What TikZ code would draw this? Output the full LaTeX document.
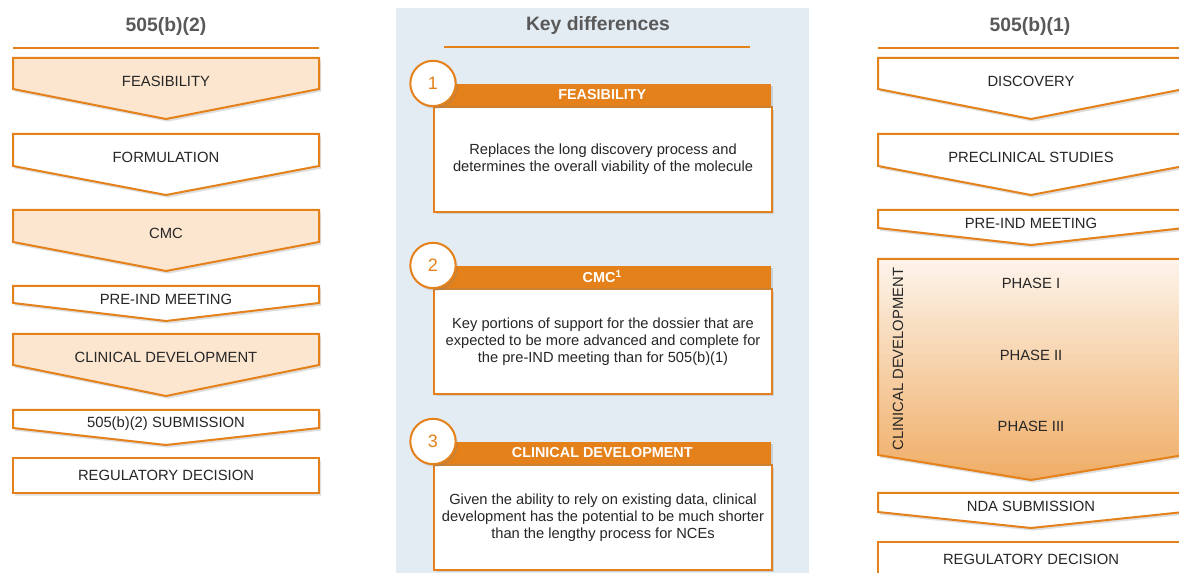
\documentclass[tikz,border=0pt]{standalone}
\usepackage{fontspec}
\setmainfont{Liberation Sans}
\usetikzlibrary{shadows,positioning}
\definecolor{myorange}{RGB}{229,129,26}
\definecolor{mypaleorange}{RGB}{252,230,207}
\definecolor{mytoporange}{RGB}{253,243,233}
\definecolor{mybottomorange}{RGB}{239,172,100}
\definecolor{mypanel}{RGB}{227,235,243}
\definecolor{mygray}{RGB}{89,89,89}
\definecolor{mytext}{RGB}{38,38,38}
\newcommand{\widthcard}{253.5pt}
\newcommand{\heightcardhead}{16.5pt}
\newcommand{\heightcardbody}{78.5pt}
% one step of a column: name, left x, top y, side y, tip y, fill options, text
\newcommand{\stage}[7]{%
    \draw[stage, #6] (#2,#3) -- ++(306,0) -- ++(0,#4-#3) -- ++(-153,#5-#4) -- ++(-153,#4-#5) -- cycle;
    \node[stagetext] (#1) at (#2+153,{(#3+#4)/2+(#5-#4)/4}) {#7};
}
\newcommand{\clinpath}{(878,259) -- ++(306,0) -- ++(0,196) -- ++(-153,25) -- ++(-153,-25) -- cycle}
\tikzset{
    shade/.style={drop shadow={shadow xshift=1.5pt, shadow yshift=-2pt, opacity=.25}},
    stage/.style={draw=myorange, line width=1.5pt, shade},
    stagetext/.style={font=\fontsize{11.1}{13}\selectfont, text=mytext, inner sep=0pt},
    colhead/.style={font=\bfseries\fontsize{14.5}{17}\selectfont, text=mygray},
    rule/.style={myorange, line width=1.5pt},
    cardhead/.style={fill=myorange, inner sep=0pt, minimum width=\widthcard,
        minimum height=\heightcardhead, text=white, font=\bfseries\fontsize{10.8}{13}\selectfont, shade},
    cardbody/.style={anchor=north west, draw=myorange, line width=1.5pt, fill=white, minimum width=\widthcard,
        minimum height=\heightcardbody, align=center, text=mytext, font=\fontsize{11}{12.8}\selectfont, shade},
    badge/.style={circle, draw=myorange, line width=1.5pt, fill=white, minimum size=34pt, inner sep=0pt,
        text=myorange, font=\fontsize{13.5}{16}\selectfont, shade}
}
\begin{document}
\begin{tikzpicture}[x=0.75pt, y=-0.75pt]
    \clip (0,0) rectangle (1179,573);
    \fill[white] (0,0) rectangle (1179,573);

    % middle panel
    \fill[mypanel] (396,8) rectangle (809,590);
    \node[colhead] (keyhead) at (598,26) {Key differences};
    \draw[rule] (444,47) -- (750,47);

    \node[cardbody] (body1) at (433,106)
        {Replaces the long discovery process and\\determines the overall viability of the molecule};
    \node[cardhead, above=0pt of body1.north west, anchor=south west] (head1) {FEASIBILITY};
    \node[badge] (num1) at (head1.north west) {1};

    \node[cardbody] (body2) at (433,288)
        {Key portions of support for the dossier that are\\expected to be more advanced and complete for\\the pre-IND meeting than for 505(b)(1)};
    \node[cardhead, above=0pt of body2.north west, anchor=south west] (head2) {CMC\textsuperscript{1}};
    \node[badge] (num2) at (head2.north west) {2};

    \node[cardbody] (body3) at (433,464)
        {Given the ability to rely on existing data, clinical\\development has the potential to be much shorter\\than the lengthy process for NCEs};
    \node[cardhead, above=0pt of body3.north west, anchor=south west] (head3) {CLINICAL DEVELOPMENT};
    \node[badge] (num3) at (head3.north west) {3};

    % 505(b)(2)
    \node[colhead] (lefthead) at (166,27) {505(b)(2)};
    \draw[rule] (13,48) -- (319,48);
    \stage{feas}{13}{58}{89}{119}{fill=mypaleorange}{FEASIBILITY}
    \stage{form}{13}{134}{166}{195}{fill=white}{FORMULATION}
    \stage{cmc}{13}{210}{242}{271}{fill=mypaleorange}{CMC}
    \stage{preindl}{13}{286}{303}{321}{fill=white}{PRE-IND MEETING}
    \stage{clinl}{13}{334}{365}{396}{fill=mypaleorange}{CLINICAL DEVELOPMENT}
    \stage{subl}{13}{410}{428}{445}{fill=white}{505(b)(2) SUBMISSION}
    \stage{regl}{13}{458}{493}{493}{fill=white}{REGULATORY DECISION}

    % 505(b)(1)
    \node[colhead] (righthead) at (1030,27) {505(b)(1)};
    \draw[rule] (878,48) -- (1184,48);
    \stage{disc}{878}{58}{89}{119}{fill=white}{DISCOVERY}
    \stage{precl}{878}{134}{166}{195}{fill=white}{PRECLINICAL STUDIES}
    \stage{preindr}{878}{210}{228}{245}{fill=white}{PRE-IND MEETING}
    \path[shade, fill=white] \clinpath;
    \begin{scope}
        \clip \clinpath;
        \foreach \i in {0,...,44} {
            \pgfmathtruncatemacro{\p}{100*\i/44}
            \fill[mybottomorange!\p!mytoporange] (878,259+5*\i) rectangle (1184,265+5*\i);
        }
    \end{scope}
    \draw[myorange, line width=1.5pt] \clinpath;
    \node[stagetext, rotate=90] (clinr) at (898,359) {CLINICAL DEVELOPMENT};
    \node[stagetext] (ph1) at (1031,283) {PHASE I};
    \node[stagetext] (ph2) at (1031,355) {PHASE II};
    \node[stagetext] (ph3) at (1031,426) {PHASE III};
    \stage{ndar}{878}{493}{512}{528}{fill=white}{NDA SUBMISSION}
    \stage{regr}{878}{542}{577}{577}{fill=white}{REGULATORY DECISION}
\end{tikzpicture}
\end{document}
